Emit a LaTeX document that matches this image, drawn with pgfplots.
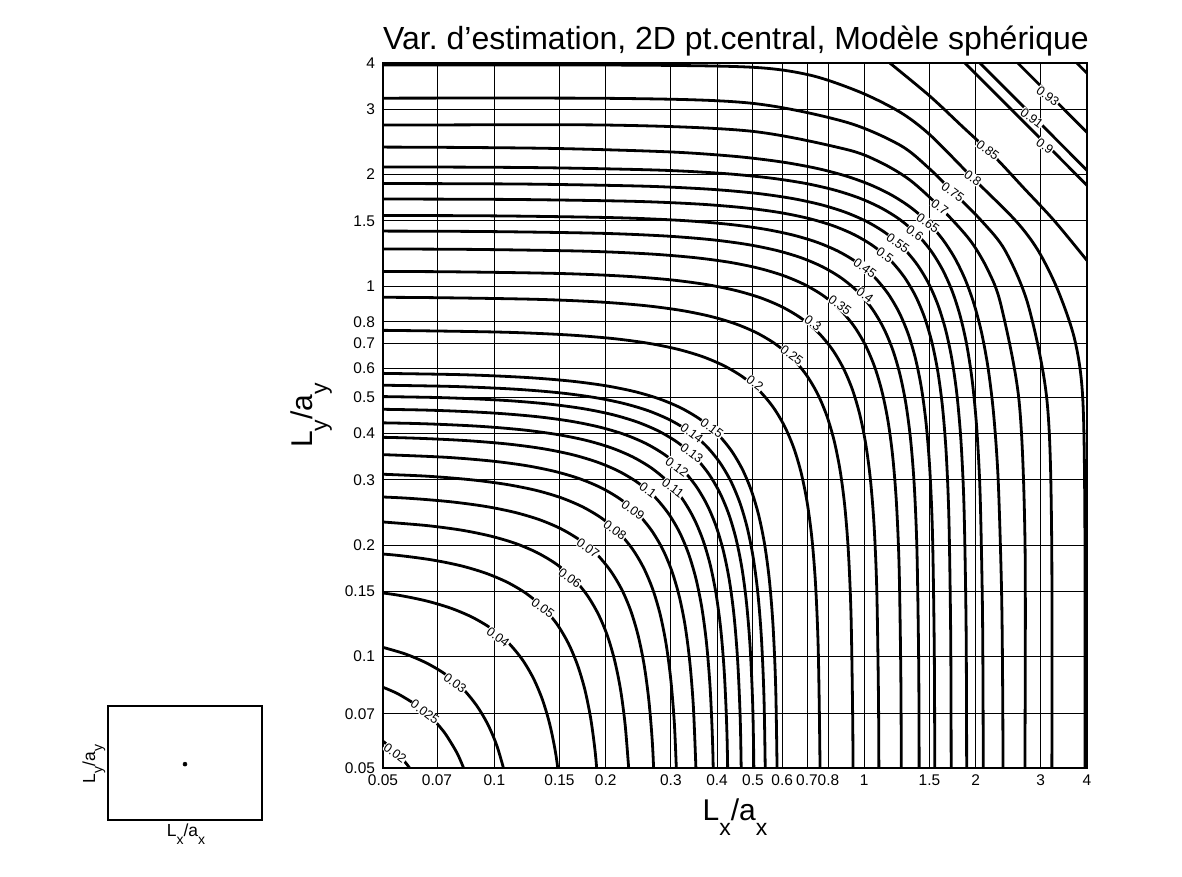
\documentclass[border=0pt]{standalone}
\usepackage{fontspec}
\setmainfont{Liberation Sans}
\usepackage{pgfplots}
\pgfplotsset{compat=1.18}
\frenchspacing
\tikzset{cont/.style={black, line width=2.1pt, smooth, line join=round}}
\newcommand{\clab}[3]{\node[rotate=-37, fill=white, inner sep=0.3pt, font=\fontsize{9.5}{10}\selectfont] at (axis cs:#1,#2) {#3};}
\newcommand{\bigsub}[1]{\raisebox{-11.25pt}{\fontsize{17.25}{20}\selectfont #1}}
\newcommand{\smallsub}[1]{\raisebox{-5.5pt}{\fontsize{10.5}{12}\selectfont #1}}
\begin{document}
\begin{tikzpicture}
\useasboundingbox (0,0) rectangle (886.5pt,657.75pt);
\begin{axis}[
  at={(287.25pt,81.75pt)}, anchor=south west,
  scale only axis, width=528pt, height=528.75pt,
  xmode=log, ymode=log,
  xmin=0.05, xmax=4, ymin=0.05, ymax=4,
  xtick={0.05,0.07,0.1,0.15,0.2,0.3,0.4,0.5,0.6,0.7,0.8,1,1.5,2,3,4},
  xticklabels={0.05,0.07,0.1,0.15,0.2,0.3,0.4,0.5,0.6,0.7,0.8,1,1.5,2,3,4},
  ytick={0.05,0.07,0.1,0.15,0.2,0.3,0.4,0.5,0.6,0.7,0.8,1,1.5,2,3,4},
  yticklabels={0.05,0.07,0.1,0.15,0.2,0.3,0.4,0.5,0.6,0.7,0.8,1,1.5,2,3,4},
  minor xtick={}, minor ytick={},
  grid=major, major grid style={black, line width=0.7pt},
  axis line style={black, line width=0.9pt},
  major tick length=0pt,
  /pgf/number format/assume math mode=true,
  ticklabel style={font=\fontsize{11.6}{13}\selectfont},
  xticklabel style={yshift=-1.5pt},
  yticklabel style={xshift=-2.5pt},
  clip=true,
]
% 0.02
\addplot[cont] coordinates {(0.04923,0.05972) (0.05197,0.05729) (0.0547,0.0547) (0.05729,0.05197) (0.05972,0.04923)};
% 0.025
\addplot[cont] coordinates {(0.04763,0.08422) (0.05444,0.07961) (0.0612,0.07424) (0.06459,0.07122) (0.068,0.068) (0.07122,0.06459) (0.07424,0.0612) (0.07961,0.05444) (0.08422,0.04763)};
% 0.03
\addplot[cont] coordinates {(0.0492,0.1063) (0.0574,0.1016) (0.0656,0.0960) (0.0738,0.0895) (0.082,0.082) (0.0895,0.0738) (0.0960,0.0656) (0.1016,0.0574) (0.1063,0.0492)};
% 0.04
\addplot[cont] coordinates {(0.0436,0.1510) (0.0545,0.1466) (0.0654,0.1413) (0.0763,0.1350) (0.0872,0.1276) (0.0981,0.1190) (0.109,0.109) (0.1190,0.0981) (0.1276,0.0872) (0.1350,0.0763) (0.1413,0.0654) (0.1466,0.0545) (0.1510,0.0436)};
% 0.05
\addplot[cont] coordinates {(0.04065,0.1921) (0.0542,0.1877) (0.06775,0.1823) (0.0813,0.1757) (0.09485,0.1678) (0.1084,0.1586) (0.1220,0.1479) (0.1355,0.1355) (0.1479,0.1220) (0.1586,0.1084) (0.1678,0.09485) (0.1757,0.0813) (0.1823,0.06775) (0.1877,0.0542) (0.1921,0.04065)};
% 0.06
\addplot[cont] coordinates {(0.0489,0.2311) (0.0652,0.2258) (0.0815,0.2193) (0.0978,0.2113) (0.1141,0.2019) (0.1304,0.1908) (0.1467,0.1779) (0.163,0.163) (0.1779,0.1467) (0.1908,0.1304) (0.2019,0.1141) (0.2113,0.0978) (0.2193,0.0815) (0.2258,0.0652) (0.2311,0.0489)};
% 0.07
\addplot[cont] coordinates {(0.0378,0.2724) (0.0567,0.2679) (0.0756,0.2618) (0.0945,0.2542) (0.1134,0.2450) (0.1323,0.2341) (0.1512,0.2213) (0.1701,0.2063) (0.189,0.189) (0.2063,0.1701) (0.2213,0.1512) (0.2341,0.1323) (0.2450,0.1134) (0.2542,0.0945) (0.2618,0.0756) (0.2679,0.0567) (0.2724,0.0378)};
% 0.08
\addplot[cont] coordinates {(0.0433,0.3121) (0.06495,0.3069) (0.0866,0.2999) (0.10825,0.2912) (0.1299,0.2807) (0.15155,0.2682) (0.1732,0.2535) (0.19485,0.2364) (0.2165,0.2165) (0.2364,0.19485) (0.2535,0.1732) (0.2682,0.15155) (0.2807,0.1299) (0.2912,0.10825) (0.2999,0.0866) (0.3069,0.06495) (0.3121,0.0433)};
% 0.09
\addplot[cont] coordinates {(0.0487,0.3510) (0.07305,0.3452) (0.0974,0.3373) (0.12175,0.3276) (0.1461,0.3157) (0.17045,0.3016) (0.1948,0.2851) (0.21915,0.2658) (0.2435,0.2435) (0.2658,0.21915) (0.2851,0.1948) (0.3016,0.17045) (0.3157,0.1461) (0.3276,0.12175) (0.3373,0.0974) (0.3452,0.07305) (0.3510,0.0487)};
% 0.1
\addplot[cont] coordinates {(0.02705,0.3941) (0.0541,0.3899) (0.08115,0.3834) (0.1082,0.3748) (0.13525,0.3639) (0.1623,0.3507) (0.18935,0.3350) (0.2164,0.3167) (0.24345,0.2953) (0.2705,0.2705) (0.2953,0.24345) (0.3167,0.2164) (0.3350,0.18935) (0.3507,0.1623) (0.3639,0.13525) (0.3748,0.1082) (0.3834,0.08115) (0.3899,0.0541) (0.3941,0.02705)};
% 0.11
\addplot[cont] coordinates {(0.02955,0.4305) (0.0591,0.4259) (0.08865,0.4189) (0.1182,0.4094) (0.14775,0.3975) (0.1773,0.3831) (0.20685,0.3660) (0.2364,0.3459) (0.26595,0.3226) (0.2955,0.2955) (0.3226,0.26595) (0.3459,0.2364) (0.3660,0.20685) (0.3831,0.1773) (0.3975,0.14775) (0.4094,0.1182) (0.4189,0.08865) (0.4259,0.0591) (0.4305,0.02955)};
% 0.12
\addplot[cont] coordinates {(0.0321,0.4677) (0.0642,0.4627) (0.0963,0.4550) (0.1284,0.4447) (0.1605,0.4318) (0.1926,0.4161) (0.2247,0.3976) (0.2568,0.3758) (0.2889,0.3504) (0.321,0.321) (0.3504,0.2889) (0.3758,0.2568) (0.3976,0.2247) (0.4161,0.1926) (0.4318,0.1605) (0.4447,0.1284) (0.4550,0.0963) (0.4627,0.0642) (0.4677,0.0321)};
% 0.13
\addplot[cont] coordinates {(0.0347,0.5055) (0.0694,0.5002) (0.1041,0.4919) (0.1388,0.4807) (0.1735,0.4668) (0.2082,0.4499) (0.2429,0.4298) (0.2776,0.4062) (0.3123,0.3788) (0.347,0.347) (0.3788,0.3123) (0.4062,0.2776) (0.4298,0.2429) (0.4499,0.2082) (0.4668,0.1735) (0.4807,0.1388) (0.4919,0.1041) (0.5002,0.0694) (0.5055,0.0347)};
% 0.14
\addplot[cont] coordinates {(0.0372,0.5420) (0.0744,0.5362) (0.1116,0.5273) (0.1488,0.5154) (0.186,0.5004) (0.2232,0.4823) (0.2604,0.4608) (0.2976,0.4355) (0.3348,0.4061) (0.372,0.372) (0.4061,0.3348) (0.4355,0.2976) (0.4608,0.2604) (0.4823,0.2232) (0.5004,0.186) (0.5154,0.1488) (0.5273,0.1116) (0.5362,0.0744) (0.5420,0.0372)};
% 0.15
\addplot[cont] coordinates {(0.04,0.5828) (0.08,0.5766) (0.12,0.567) (0.16,0.5542) (0.2,0.5381) (0.24,0.5186) (0.28,0.4954) (0.32,0.4683) (0.36,0.4367) (0.4,0.4) (0.4367,0.36) (0.4683,0.32) (0.4954,0.28) (0.5186,0.24) (0.5381,0.2) (0.5542,0.16) (0.567,0.12) (0.5766,0.08) (0.5828,0.04)};
% 0.2
\addplot[cont] coordinates {(0.02605,0.7613) (0.0521,0.7590) (0.1042,0.7510) (0.1563,0.7385) (0.2084,0.7218) (0.2605,0.7008) (0.3126,0.6754) (0.3647,0.6453) (0.4168,0.6099) (0.4689,0.5688) (0.521,0.521) (0.5688,0.4689) (0.6099,0.4168) (0.6453,0.3647) (0.6754,0.3126) (0.7008,0.2605) (0.7218,0.2084) (0.7385,0.1563) (0.7510,0.1042) (0.7590,0.0521) (0.7613,0.02605)};
% 0.25
\addplot[cont] coordinates {(0.03195,0.9338) (0.0639,0.9310) (0.1278,0.9211) (0.1917,0.9058) (0.2556,0.8853) (0.3195,0.8596) (0.3834,0.8284) (0.4473,0.7915) (0.5112,0.7481) (0.5751,0.6976) (0.639,0.639) (0.6976,0.5751) (0.7481,0.5112) (0.7915,0.4473) (0.8284,0.3834) (0.8596,0.3195) (0.8853,0.2556) (0.9058,0.1917) (0.9211,0.1278) (0.9310,0.0639) (0.9338,0.03195)};
% 0.3
\addplot[cont] coordinates {(0.0375,1.096) (0.075,1.0927) (0.15,1.0811) (0.225,1.0631) (0.3,1.0391) (0.375,1.0089) (0.45,0.9723) (0.525,0.9290) (0.6,0.8780) (0.675,0.8188) (0.75,0.75) (0.8188,0.675) (0.8780,0.6) (0.9290,0.525) (0.9723,0.45) (1.0089,0.375) (1.0391,0.3) (1.0631,0.225) (1.0811,0.15) (1.0927,0.075) (1.096,0.0375)};
% 0.35
\addplot[cont] coordinates {(0.0431,1.2596) (0.0862,1.2558) (0.1724,1.2425) (0.2586,1.2219) (0.3448,1.1942) (0.431,1.1596) (0.5172,1.1175) (0.6034,1.0677) (0.6896,1.0091) (0.7758,0.9410) (0.862,0.862) (0.9410,0.7758) (1.0091,0.6896) (1.0677,0.6034) (1.1175,0.5172) (1.1596,0.431) (1.1942,0.3448) (1.2219,0.2586) (1.2425,0.1724) (1.2558,0.0862) (1.2596,0.0431)};
% 0.4
\addplot[cont] coordinates {(0.01926,1.4086) (0.04815,1.4072) (0.0963,1.4030) (0.1926,1.3881) (0.2889,1.3651) (0.3852,1.3341) (0.4815,1.2954) (0.5778,1.2484) (0.6741,1.1928) (0.7704,1.1274) (0.8667,1.0513) (0.963,0.963) (1.0513,0.8667) (1.1274,0.7704) (1.1928,0.6741) (1.2484,0.5778) (1.2954,0.4815) (1.3341,0.3852) (1.3651,0.2889) (1.3881,0.1926) (1.4030,0.0963) (1.4072,0.04815) (1.4086,0.01926)};
% 0.45
\addplot[cont] coordinates {(0.02122,1.5519) (0.05305,1.5504) (0.1061,1.5458) (0.2122,1.5293) (0.3183,1.5040) (0.4244,1.4699) (0.5305,1.4273) (0.6366,1.3755) (0.7427,1.3142) (0.8488,1.2421) (0.9549,1.1583) (1.061,1.061) (1.1583,0.9549) (1.2421,0.8488) (1.3142,0.7427) (1.3755,0.6366) (1.4273,0.5305) (1.4699,0.4244) (1.5040,0.3183) (1.5293,0.2122) (1.5458,0.1061) (1.5504,0.05305) (1.5519,0.02122)};
% 0.5
\addplot[cont] coordinates {(0.0235,1.7187) (0.05875,1.7170) (0.1175,1.7119) (0.235,1.6936) (0.3525,1.6656) (0.47,1.6278) (0.5875,1.5806) (0.705,1.5233) (0.8225,1.4554) (0.94,1.3756) (1.0575,1.2827) (1.175,1.175) (1.2827,1.0575) (1.3756,0.94) (1.4554,0.8225) (1.5233,0.705) (1.5806,0.5875) (1.6278,0.47) (1.6656,0.3525) (1.6936,0.235) (1.7119,0.1175) (1.7170,0.05875) (1.7187,0.0235)};
% 0.55
\addplot[cont] coordinates {(0.02542,1.8932) (0.06355,1.8907) (0.1271,1.8838) (0.2542,1.8604) (0.3813,1.8257) (0.5084,1.7804) (0.6355,1.7249) (0.7626,1.6587) (0.8897,1.5814) (1.0168,1.4920) (1.1439,1.3892) (1.271,1.271) (1.3892,1.1439) (1.4920,1.0168) (1.5814,0.8897) (1.6587,0.7626) (1.7249,0.6355) (1.7804,0.5084) (1.8257,0.3813) (1.8604,0.2542) (1.8838,0.1271) (1.8907,0.06355) (1.8932,0.02542)};
% 0.6
\addplot[cont] coordinates {(0.02768,2.0986) (0.0692,2.0952) (0.1384,2.0858) (0.2768,2.0558) (0.4152,2.0130) (0.5536,1.9588) (0.692,1.8933) (0.8304,1.8166) (0.9688,1.7285) (1.1072,1.6277) (1.2456,1.5137) (1.384,1.384) (1.5137,1.2456) (1.6277,1.1072) (1.7285,0.9688) (1.8166,0.8304) (1.8933,0.692) (1.9588,0.5536) (2.0130,0.4152) (2.0558,0.2768) (2.0858,0.1384) (2.0952,0.0692) (2.0986,0.02768)};
% 0.65
\addplot[cont] coordinates {(0.02972,2.3751) (0.0743,2.3678) (0.1486,2.3506) (0.2972,2.3020) (0.4458,2.2393) (0.5944,2.1644) (0.743,2.0786) (0.8916,1.9822) (1.0402,1.8752) (1.1888,1.7573) (1.3374,1.6281) (1.486,1.486) (1.6281,1.3374) (1.7573,1.1888) (1.8752,1.0402) (1.9822,0.8916) (2.0786,0.743) (2.1644,0.5944) (2.2393,0.4458) (2.3020,0.2972) (2.3506,0.1486) (2.3678,0.0743) (2.3751,0.02972)};
% 0.7
\addplot[cont] coordinates {(0.03,2.719) (0.05,2.719) (0.2054,2.719) (0.4908,2.620) (0.886,2.343) (1.102,2.161) (1.329,1.932) (1.617,1.617) (1.932,1.329) (2.161,1.102) (2.343,0.886) (2.620,0.4908) (2.719,0.2054) (2.719,0.05) (2.719,0.03)};
% 0.75
\addplot[cont] coordinates {(0.03,3.211) (0.2054,3.211) (0.4908,3.118) (0.886,2.776) (1.248,2.402) (1.504,2.069) (1.765,1.765) (2.069,1.504) (2.402,1.248) (2.776,0.886) (3.118,0.4908) (3.211,0.2054) (3.211,0.03)};
% 0.8
\addplot[cont] coordinates {(0.03,3.950) (0.2054,3.950) (0.4908,3.899) (0.713,3.710) (0.973,3.339) (1.248,2.949) (1.504,2.561) (1.961,1.961) (2.561,1.504) (2.949,1.248) (3.339,0.973) (3.710,0.713) (3.899,0.4908) (3.950,0.2054) (3.950,0.03)};
% 0.85
\addplot[cont] coordinates {(0.973,4.641) (1.173,3.998) (1.504,3.256) (1.836,2.703) (2.242,2.242) (2.703,1.836) (3.256,1.504) (3.998,1.173) (4.641,0.973)};
% 0.9
\addplot[cont] coordinates {(1.652,4.527) (1.871,3.998) (2.736,2.736) (3.998,1.871) (4.527,1.652)};
% 0.91
\addplot[cont] coordinates {(1.813,4.527) (2.054,3.998) (2.866,2.866) (3.998,2.054) (4.527,1.813)};
% 0.93
\addplot[cont] coordinates {(2.297,4.527) (2.601,3.998) (3.225,3.225) (3.998,2.601) (4.527,2.297)};
% corner
\addplot[cont] coordinates {(3.316,4.527) (3.756,3.998) (3.875,3.875) (3.998,3.756) (4.527,3.316)};
% labels
\clab{0.0539}{0.0549}{0.02}
\clab{0.0649}{0.0708}{0.025}
\clab{0.0783}{0.0848}{0.03}
\clab{0.1023}{0.1129}{0.04}
\clab{0.1353}{0.1351}{0.05}
\clab{0.1601}{0.1629}{0.06}
\clab{0.1791}{0.1963}{0.07}
\clab{0.2118}{0.2195}{0.08}
\clab{0.2369}{0.2486}{0.09}
\clab{0.2601}{0.2814}{0.1}
\clab{0.3039}{0.2849}{0.11}
\clab{0.3116}{0.3247}{0.12}
\clab{0.342}{0.3542}{0.13}
\clab{0.342}{0.401}{0.14}
\clab{0.3874}{0.4137}{0.15}
\clab{0.5062}{0.5472}{0.2}
\clab{0.6373}{0.6511}{0.25}
\clab{0.7264}{0.7944}{0.3}
\clab{0.8593}{0.8886}{0.35}
\clab{1.004}{0.9455}{0.4}
\clab{1.004}{1.1185}{0.45}
\clab{1.137}{1.212}{0.5}
\clab{1.233}{1.306}{0.55}
\clab{1.370}{1.390}{0.6}
\clab{1.486}{1.479}{0.65}
\clab{1.601}{1.634}{0.7}
\clab{1.736}{1.793}{0.75}
\clab{1.966}{1.956}{0.8}
\clab{2.158}{2.328}{0.85}
\clab{3.077}{2.387}{0.9}
\clab{2.838}{2.840}{0.91}
\clab{3.134}{3.256}{0.93}
\end{axis}
% inset
\begin{axis}[
  at={(81pt,42.75pt)}, anchor=south west,
  scale only axis, width=115.5pt, height=85.5pt,
  xmin=0, xmax=1, ymin=0, ymax=1, ticks=none,
  axis line style={black, line width=0.8pt},
]
\addplot[only marks, mark=*, mark size=1.5pt, black] coordinates {(0.5,0.49)};
\end{axis}
\node[anchor=base, font=\fontsize{24}{28}\selectfont] at (552pt,620.25pt) {Var. d’estimation, 2D pt.central, Modèle sphérique};
\node[anchor=base, font=\fontsize{22.5}{27}\selectfont, inner sep=0pt] at (551.25pt,42pt) {L\bigsub{x}/a\bigsub{x}};
\node[anchor=base, rotate=90, font=\fontsize{22.5}{27}\selectfont, inner sep=0pt] at (234pt,346.1pt) {L\bigsub{y}/a\bigsub{y}};
\node[anchor=base, font=\fontsize{13.1}{15}\selectfont, inner sep=0pt] at (139.5pt,30pt) {L\smallsub{x}/a\smallsub{x}};
\node[anchor=base, rotate=90, font=\fontsize{13.1}{15}\selectfont, inner sep=0pt] at (71.25pt,84.75pt) {L\smallsub{y}/a\smallsub{y}};
\end{tikzpicture}
\end{document}
